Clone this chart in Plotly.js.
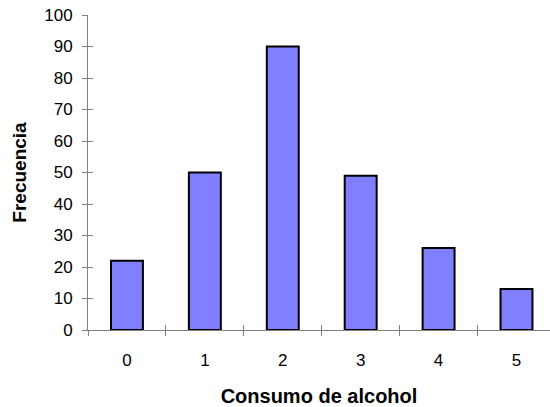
<!DOCTYPE html>
<html>
<head>
<meta charset="utf-8">
<script src="https://cdn.plot.ly/plotly-3.0.1.min.js"></script>
<style>html,body{margin:0;padding:0;background:#fff}#chart{width:550px;height:407px}</style>
</head>
<body>
<div id="chart"></div>
<script>
const categories = ["0", "1", "2", "3", "4", "5"];
const frecuencia = [22, 50, 90, 49, 26, 13];
const yTicks = [0, 10, 20, 30, 40, 50, 60, 70, 80, 90, 100];
const xTitle = "Consumo de alcohol";
const yTitle = "Frecuencia";

const fam = "Liberation Sans, Arial, sans-serif";

const data = [
  {
    type: "bar",
    x: categories,
    y: frecuencia,
    width: 0.41,
    marker: {color: "#8080FF", line: {color: "#000", width: 2}},
    hoverinfo: "x+y"
  },
  {
    type: "bar",
    x: categories,
    y: frecuencia.map(() => 0),
    xaxis: "x2",
    yaxis: "y2",
    showlegend: false,
    hoverinfo: "skip",
    marker: {color: "rgba(0,0,0,0)"}
  }
];

const xRange = [-0.5, 5.43];
const axisCommon = {
  showgrid: false, zeroline: false, linecolor: "#808080", linewidth: 1,
  tickcolor: "#808080", ticklen: 5, tickwidth: 1
};

const layout = {
  width: 550, height: 407,
  margin: {l: 88, r: 0, t: 15, b: 77},
  paper_bgcolor: "#fff", plot_bgcolor: "#fff",
  font: {family: fam, size: 17, color: "#000"},
  showlegend: false,
  xaxis: Object.assign({}, axisCommon, {
    type: "category", range: xRange, showline: true, ticks: "outside",
    tickson: "boundaries", ticklabelstandoff: 15,
    tickfont: {family: fam, size: 17, color: "#000"},
    title: {text: xTitle, font: {family: fam, size: 20, color: "#000", weight: "bold"}, standoff: 19}
  }),
  yaxis: Object.assign({}, axisCommon, {
    range: [0, 100], tickvals: yTicks, showline: true, ticks: "outside",
    ticklabelstandoff: 6,
    tickfont: {family: fam, size: 17, color: "#000"},
    title: {text: yTitle, font: {family: fam, size: 19, color: "#000", weight: "bold"}, standoff: 12}
  }),
  xaxis2: Object.assign({}, axisCommon, {
    type: "category", range: xRange, overlaying: "x", anchor: "y2", showline: false,
    ticks: "inside", tickson: "boundaries", showticklabels: false
  }),
  yaxis2: Object.assign({}, axisCommon, {
    range: [0, 100], tickvals: yTicks, overlaying: "y", anchor: "x2", showline: false,
    ticks: "inside", showticklabels: false
  })
};

Plotly.newPlot("chart", data, layout, {displayModeBar: false, staticPlot: true});
</script>
</body>
</html>
